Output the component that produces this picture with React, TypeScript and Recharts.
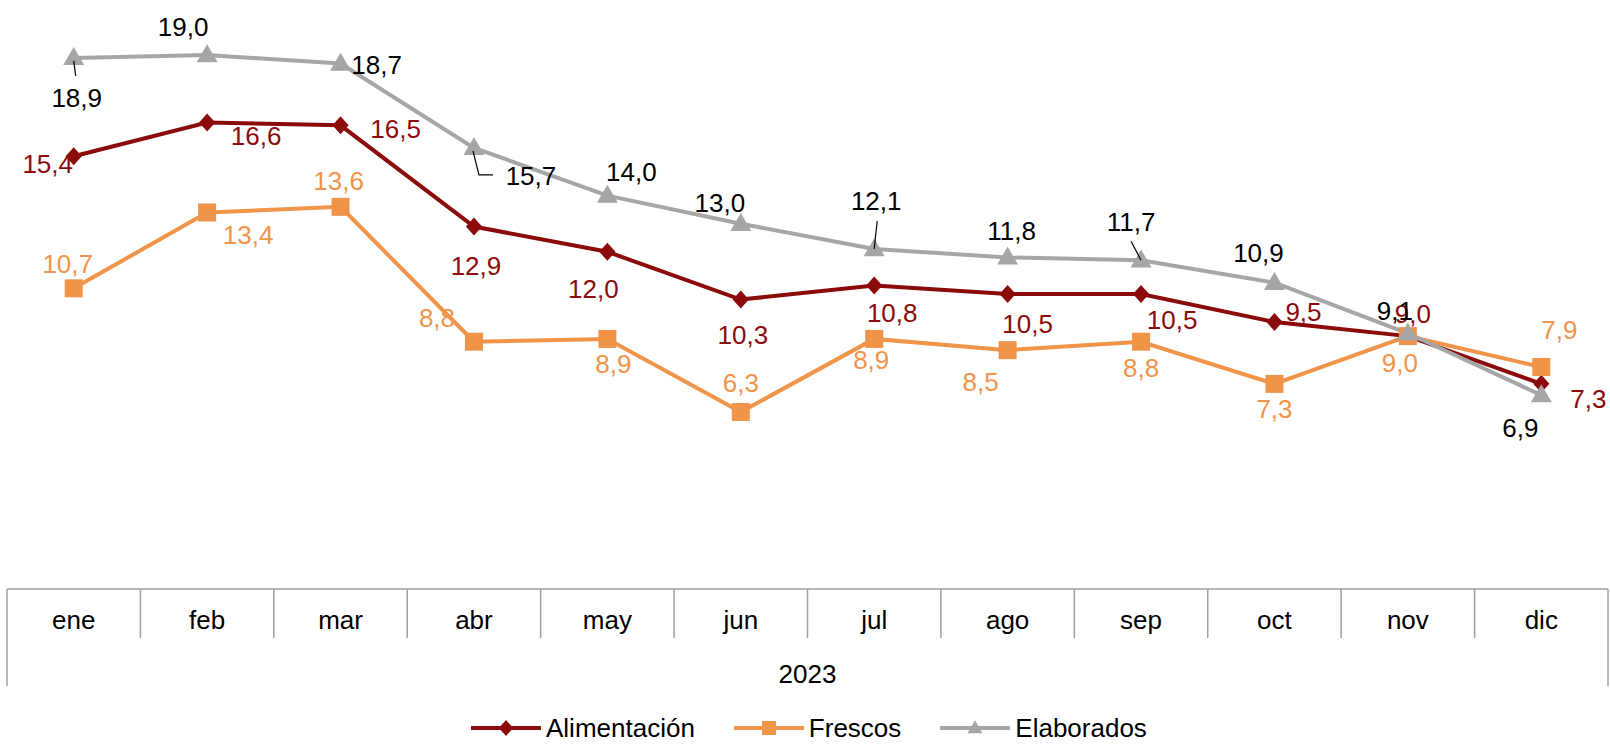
import React from "react";
import { ComposedChart, Line, XAxis, YAxis, Legend, LabelList } from "recharts";

// datos 2023, variación interanual (%)
const months = ["ene", "feb", "mar", "abr", "may", "jun", "jul", "ago", "sep", "oct", "nov", "dic"];
const yearLabel = "2023";
const alimentacion = [15.4, 16.6, 16.5, 12.9, 12.0, 10.3, 10.8, 10.5, 10.5, 9.5, 9.0, 7.3];
const frescos = [10.7, 13.4, 13.6, 8.8, 8.9, 6.3, 8.9, 8.5, 8.8, 7.3, 9.0, 7.9];
const elaborados = [18.9, 19.0, 18.7, 15.7, 14.0, 13.0, 12.1, 11.8, 11.7, 10.9, 9.1, 6.9];

const data = months.map((m, i) => ({
	month: m,
	alimentacion: alimentacion[i],
	frescos: frescos[i],
	elaborados: elaborados[i],
}));

// posiciones de las etiquetas (desplazamiento respecto al punto)
const alimLabelPos = [
	[-26, 8], [49, 13], [55, 4], [2, 39], [-14, 37], [2, 35],
	[18, 27], [20, 30], [31, 26], [29, -10], [5, -22], [47, 15],
];
const frescosLabelPos = [
	[-6, -24], [41, 23], [-2, -26], [-37, -24], [6, 25], [0, -29],
	[-3, 21], [-27, 32], [0, 26], [0, 25], [-8, 27], [18, -37],
];
const elabLabelPos = [
	[3, 40], [-24, -28], [36, 1], [57, 28], [24, -24], [-21, -21],
	[2, -48], [4, -26], [-10, -38], [-16, -30], [-13, -22], [-21, 33],
];
// líneas guía de algunas etiquetas
const elabLeaders: Record<number, number[][]> = {
	0: [[0, 3], [2, 18]],
	3: [[-1, 3], [5, 27], [19, 27]],
	6: [[0, 0], [3, -28]],
	8: [[0, 0], [-10, -19]],
};

const RED = "#8B0A0A";
const ORANGE = "#F0944A";
const GRAY = "#A6A6A6";
const AXIS = "#A0A0A0";
const FONT = "'Liberation Sans', Arial, sans-serif";
const FS = 26;

const W = 1610;
const H = 744;
const M = { top: 27, left: 7, right: 2, bottom: 0 };
const BAND = (W - M.left - M.right) / months.length;

const fmt = (v: number) => v.toFixed(1).replace(".", ",");

const diamondPath = (cx: number, cy: number, r: number) =>
	`M${cx},${cy - r}L${cx + r * 0.9},${cy}L${cx},${cy + r}L${cx - r * 0.9},${cy}Z`;
const trianglePath = (cx: number, cy: number, w: number, h: number) =>
	`M${cx},${cy - h * 0.6}L${cx + w / 2},${cy + h * 0.4}L${cx - w / 2},${cy + h * 0.4}Z`;

const DiamondDot = (props: any) => {
	const { cx, cy, index } = props;
	if (cx == null || cy == null) return <g key={`d${index}`} />;
	return <path key={`d${index}`} d={diamondPath(cx, cy, 9)} fill={RED} />;
};
const SquareDot = (props: any) => {
	const { cx, cy, index } = props;
	if (cx == null || cy == null) return <g key={`s${index}`} />;
	return <rect key={`s${index}`} x={cx - 9} y={cy - 9} width={18} height={18} fill={ORANGE} />;
};
const TriangleDot = (props: any) => {
	const { cx, cy, index } = props;
	if (cx == null || cy == null) return <g key={`t${index}`} />;
	return <path key={`t${index}`} d={trianglePath(cx, cy, 21, 18)} fill={GRAY} />;
};

const makeLabel =
	(color: string, pos: number[][], leaders?: Record<number, number[][]>) =>
	(props: any) => {
		const { x, y, value, index } = props;
		if (x == null || y == null) return null;
		const [dx, dy] = pos[index] || [0, -20];
		const lead = leaders ? leaders[index] : undefined;
		return (
			<g key={`l${index}`}>
				{lead && (
					<polyline
						points={lead.map(([a, b]) => `${x + a},${y + b}`).join(" ")}
						fill="none"
						stroke="#000"
						strokeWidth={1.2}
					/>
				)}
				<text
					x={x + dx}
					y={y + dy}
					fill={color}
					fontSize={FS}
					fontFamily={FONT}
					textAnchor="middle"
					dominantBaseline="central"
				>
					{fmt(value)}
				</text>
			</g>
		);
	};

const AxisTick = (props: any) => {
	const { x, y, payload } = props;
	const i = payload.index;
	const half = BAND / 2;
	const last = months.length - 1;
	return (
		<g>
			<line x1={x - half} x2={x + half} y1={y} y2={y} stroke={AXIS} strokeWidth={1.5} />
			<line x1={x - half} x2={x - half} y1={y} y2={i === 0 ? y + 97 : y + 49} stroke={AXIS} strokeWidth={1.5} />
			{i === last && (
				<line x1={x + half} x2={x + half} y1={y} y2={y + 97} stroke={AXIS} strokeWidth={1.5} />
			)}
			<text x={x} y={y + 31} fill="#000" fontSize={FS} fontFamily={FONT} textAnchor="middle" dominantBaseline="central">
				{payload.value}
			</text>
			{i === 0 && (
				<text
					x={x - half + (BAND * months.length) / 2}
					y={y + 85}
					fill="#000"
					fontSize={FS}
					fontFamily={FONT}
					textAnchor="middle"
					dominantBaseline="central"
				>
					{yearLabel}
				</text>
			)}
		</g>
	);
};

const legendItems = [
	{ name: "Alimentación", color: RED, kind: "diamond" },
	{ name: "Frescos", color: ORANGE, kind: "square" },
	{ name: "Elaborados", color: GRAY, kind: "triangle" },
];

const LegendIcon = ({ kind, color }: { kind: string; color: string }) => (
	<svg width={70} height={20} style={{ display: "block" }}>
		<line x1={1} x2={69} y1={10} y2={10} stroke={color} strokeWidth={4} strokeLinecap="round" />
		{kind === "diamond" && <path d={diamondPath(35, 10, 8)} fill={color} />}
		{kind === "square" && <rect x={28} y={3} width={14} height={14} fill={color} />}
		{kind === "triangle" && <path d={trianglePath(35, 10, 15, 13)} fill={color} />}
	</svg>
);

const renderLegend = () => (
	<div
		style={{
			display: "flex",
			alignItems: "center",
			height: 36,
			paddingLeft: 471,
			fontFamily: FONT,
			fontSize: FS,
			color: "#000",
		}}
	>
		{legendItems.map((it, i) => (
			<div key={it.name} style={{ display: "flex", alignItems: "center", marginRight: i < 2 ? 39 : 0 }}>
				<LegendIcon kind={it.kind} color={it.color} />
				<span style={{ marginLeft: 5, lineHeight: "36px" }}>{it.name}</span>
			</div>
		))}
	</div>
);

export default function App() {
	return (
		<div style={{ position: "absolute", left: 0, top: 0, width: W, height: H, background: "#fff" }}>
			<ComposedChart width={W} height={H} data={data} margin={M}>
				<XAxis
					dataKey="month"
					type="category"
					scale="band"
					height={119}
					axisLine={false}
					tickLine={false}
					tickSize={0}
					tickMargin={0}
					interval={0}
					tick={<AxisTick />}
				/>
				<YAxis type="number" domain={[0, 20]} hide />
				<Legend verticalAlign="bottom" height={36} content={renderLegend} wrapperStyle={{ left: 0, bottom: -2, width: W }} />
				<Line
					dataKey="alimentacion"
					name="Alimentación"
					stroke={RED}
					strokeWidth={4}
					dot={DiamondDot}
					activeDot={false}
					isAnimationActive={false}
				>
					<LabelList dataKey="alimentacion" content={makeLabel(RED, alimLabelPos)} />
				</Line>
				<Line
					dataKey="frescos"
					name="Frescos"
					stroke={ORANGE}
					strokeWidth={4}
					dot={SquareDot}
					activeDot={false}
					isAnimationActive={false}
				>
					<LabelList dataKey="frescos" content={makeLabel(ORANGE, frescosLabelPos)} />
				</Line>
				<Line
					dataKey="elaborados"
					name="Elaborados"
					stroke={GRAY}
					strokeWidth={4}
					dot={TriangleDot}
					activeDot={false}
					isAnimationActive={false}
				>
					<LabelList dataKey="elaborados" content={makeLabel("#000", elabLabelPos, elabLeaders)} />
				</Line>
			</ComposedChart>
		</div>
	);
}
